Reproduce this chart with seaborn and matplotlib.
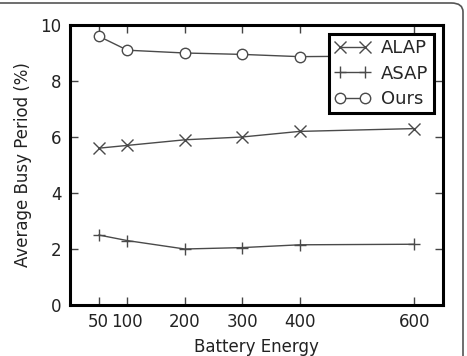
import pandas as pd
import seaborn as sns
import matplotlib.pyplot as plt
from matplotlib.patches import FancyBboxPatch

# data
battery = [50, 100, 200, 300, 400, 600]
alap = [5.6, 5.7, 5.9, 6.0, 6.2, 6.3]
asap = [2.5, 2.3, 2.0, 2.05, 2.15, 2.17]
ours = [9.6, 9.1, 9.0, 8.95, 8.87, 8.9]
xticks = [50, 100, 200, 300, 400, 600]
yticks = [0, 2, 4, 6, 8, 10]

df = pd.DataFrame({'Battery Energy': battery * 3,
                   'value': alap + asap + ours,
                   'method': ['ALAP'] * 6 + ['ASAP'] * 6 + ['Ours'] * 6})

sns.set_style("ticks")
plt.rcParams['font.family'] = ['DejaVu Sans']

fig = plt.figure(figsize=(4.67, 3.56), dpi=100)
ax = fig.add_axes([70 / 467, 1 - 305 / 356, 373 / 467, 280 / 356])

markers = {'ALAP': 'x', 'ASAP': '+', 'Ours': 'o'}
sizes = {'ALAP': 8, 'ASAP': 9, 'Ours': 7.5}
for name in ['ALAP', 'ASAP', 'Ours']:
    sub = df[df['method'] == name]
    sns.lineplot(data=sub, x='Battery Energy', y='value', ax=ax, label=name,
                 color='#4a4a4a', lw=1.0, marker=markers[name], markersize=sizes[name],
                 markerfacecolor='white', markeredgecolor='#4a4a4a',
                 markeredgewidth=1.0)

ax.set_xlim(0, 650)
ax.set_ylim(0, 10)
ax.set_xticks(xticks)
ax.set_yticks(yticks)
ax.tick_params(direction='in', length=6, width=1, colors='#444444',
               labelcolor='#222222', labelsize=12, top=True, right=True, pad=6)
for s in ax.spines.values():
    s.set_linewidth(2.2)
    s.set_color('black')
ax.set_xlabel('Battery Energy', fontsize=12, color='#222222', labelpad=5)
ax.set_ylabel('Average Busy Period (%)', fontsize=12, color='#222222', labelpad=6)

leg = ax.legend(loc='upper right', fontsize=13, fancybox=False, framealpha=1,
                edgecolor='black', borderaxespad=0.5, handlelength=2.0,
                numpoints=2, handletextpad=0.6, labelspacing=0.4, borderpad=0.3)
leg.get_frame().set_linewidth(2.2)

# rounded image border
frame = FancyBboxPatch((-20 / 467, -20 / 356), 483 / 467, 373 / 356,
                       boxstyle='round,pad=0,rounding_size=0.025',
                       transform=fig.transFigure, fill=False,
                       edgecolor='#555555', lw=1.2)
fig.patches.append(frame)

fig.savefig('out.png', dpi=100)
